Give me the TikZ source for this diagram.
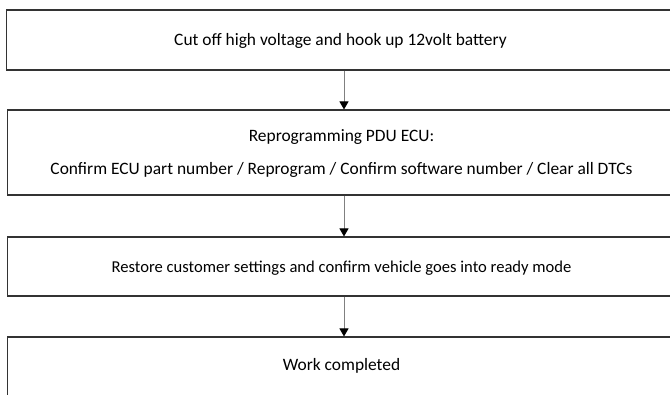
\documentclass[tikz,border=0pt]{standalone}
\usepackage{fontspec}
\setmainfont{Carlito}
\usetikzlibrary{arrows.meta}
\begin{document}
\begin{tikzpicture}[x=1pt,y=1pt,
  stepbox/.style={draw=black!80,line width=1.1pt,minimum width=668pt,inner sep=0pt,font=\fontsize{17.4}{20}\selectfont,align=center},
  oneline/.style={stepbox,text height=16pt,text depth=4pt},
  conn/.style={draw=black!50,line width=1pt,-{Triangle[length=8pt,width=9pt,fill=black,color=black]}}]
\useasboundingbox (0,0) rectangle (670,-395);
\clip (0,0) rectangle (670,-395);
\node[oneline,minimum height=60pt] (b1) at (340.5,-40) {Cut off high voltage and hook up 12volt battery};
\node[stepbox,minimum height=85pt] (b2) at (341.5,-152.5) {\rule{0pt}{16pt}Reprogramming PDU ECU:\\[13pt]Confirm ECU part number / Reprogram / Confirm software number / Clear all DTCs\rule[-5.4pt]{0pt}{1pt}};
\node[oneline,minimum height=59pt,font=\fontsize{16.6}{20}\selectfont] (b3) at (341.5,-266.5) {Restore customer settings and confirm vehicle goes into ready mode};
\node[stepbox,text height=6pt,text depth=8pt,minimum height=70pt] (b4) at (341.5,-372) {Work completed};
\draw[conn] ([xshift=3.5pt]b1.south) -- ([xshift=3.5pt]b1.south |- b2.north);
\draw[conn] ([xshift=2.5pt]b2.south) -- ([xshift=2.5pt]b3.north);
\draw[conn] ([xshift=2.5pt]b3.south) -- ([xshift=2.5pt]b4.north);
\end{tikzpicture}
\end{document}
